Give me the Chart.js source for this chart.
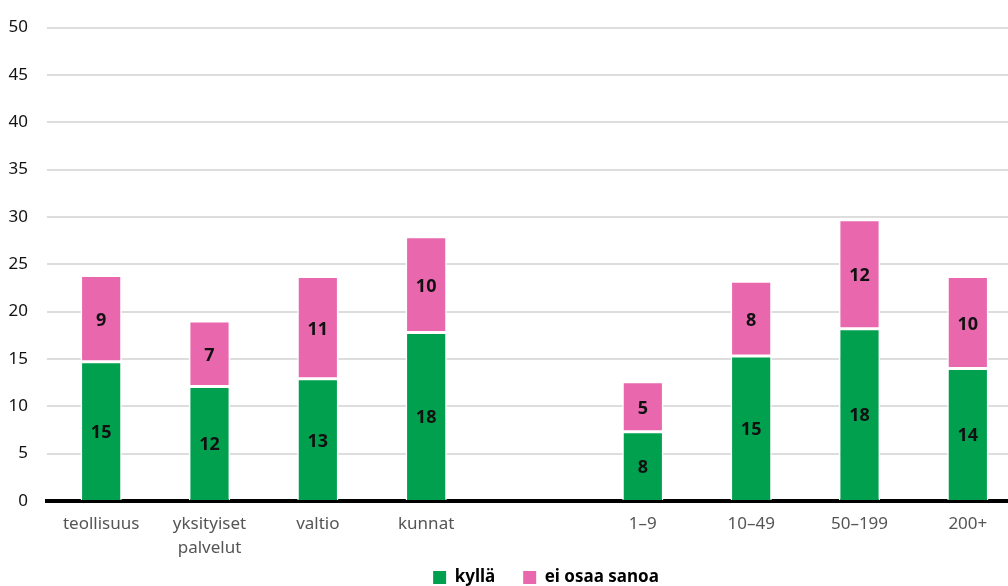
<!DOCTYPE html>
<html>
<head>
<meta charset="utf-8">
<script src="https://cdn.jsdelivr.net/npm/chart.js@4"></script>
<style>
  html, body { margin: 0; padding: 0; background: #fff; overflow: hidden; }
  #wrap { width: 1022px; height: 586px; }
</style>
</head>
<body>
<div id="wrap"><canvas id="chart" width="1022" height="586"></canvas></div>
<script>
// categories (empty slot between the two groups)
const categories = ['teollisuus', ['yksityiset', 'palvelut'], 'valtio', 'kunnat', '', '1–9', '10–49', '50–199', '200+'];
// series values (unrounded)
const kylla = [14.7, 12.1, 12.9, 17.8, null, 7.3, 15.3, 18.2, 14.0];
const eiOsaa = [9.1, 6.9, 10.8, 10.1, null, 5.3, 7.9, 11.5, 9.7];
// printed labels
const kyllaLabels = ['15', '12', '13', '18', '', '8', '15', '18', '14'];
const eiOsaaLabels = ['9', '7', '11', '10', '', '5', '8', '12', '10'];
const seriesNames = ['kyllä', 'ei osaa sanoa'];

const fontFam = '"Noto Sans", "Open Sans", sans-serif';
const legendPad = 28;

// axis labels may spill over the legend box, legend moved down to the bottom edge
const segmentLabels = {
    id: 'segmentLabels',
    afterLayout(chart) {
        const lg = chart.legend;
        const h = lg.bottom - lg.top;
        lg.top = 569 - legendPad;
        lg.bottom = lg.top + h;
        lg.left += 35;
        lg.right += 35;
        chart.scales.x.bottom = chart.height;
    },
    afterDatasetsDraw(chart) {
        const ctx = chart.ctx;
        const allLabels = [kyllaLabels, eiOsaaLabels];
        ctx.save();
        ctx.fillStyle = '#111';
        ctx.font = 'bold 18px ' + fontFam;
        ctx.textAlign = 'center';
        ctx.textBaseline = 'middle';
        chart.data.datasets.forEach((ds, i) => {
            const meta = chart.getDatasetMeta(i);
            meta.data.forEach((bar, j) => {
                const txt = allLabels[i][j];
                if (!txt || ds.data[j] == null) return;
                const p = bar.getProps(['x', 'y', 'base'], true);
                ctx.fillText(txt, p.x, (p.y + p.base) / 2 + 2);
            });
        });
        ctx.restore();
    }
};

new Chart(document.getElementById('chart').getContext('2d'), {
    type: 'bar',
    data: {
        labels: categories,
        datasets: [{
            label: seriesNames[0],
            data: kylla,
            backgroundColor: '#00a04f',
            borderColor: '#ffffff',
            borderWidth: 1.5,
            borderSkipped: 'bottom',
            barPercentage: 0.38,
            categoryPercentage: 1
        }, {
            label: seriesNames[1],
            data: eiOsaa,
            backgroundColor: '#e867ad',
            borderColor: '#ffffff',
            borderWidth: 1.5,
            borderSkipped: false,
            barPercentage: 0.38,
            categoryPercentage: 1
        }]
    },
    options: {
        responsive: false,
        animation: false,
        layout: { padding: { top: 27, left: 0, right: 0, bottom: 0 } },
        scales: {
            x: {
                stacked: true,
                grid: { display: false },
                border: { color: '#000', width: 4 },
                ticks: {
                    color: '#555',
                    font: { family: fontFam, size: 17, lineHeight: 1.4 },
                    padding: 3,
                    maxRotation: 0,
                    autoSkip: false
                },
                afterFit(scale) { scale.height = 30; }
            },
            y: {
                stacked: true,
                min: 0,
                max: 50,
                ticks: {
                    stepSize: 5,
                    color: '#111',
                    font: { family: fontFam, size: 17, lineHeight: 1 },
                    padding: 19
                },
                grid: { color: '#dddddd', lineWidth: 2, drawTicks: false },
                border: { display: false },
                afterFit(scale) { scale.width = 47; }
            }
        },
        plugins: {
            legend: {
                position: 'bottom',
                labels: {
                    color: '#111',
                    font: { family: fontFam, size: 17, weight: 'bold' },
                    boxWidth: 13,
                    boxHeight: 13,
                    padding: legendPad,
                    generateLabels(chart) {
                        return chart.data.datasets.map((ds, i) => ({
                            text: ds.label,
                            fillStyle: ds.backgroundColor,
                            strokeStyle: ds.backgroundColor,
                            lineWidth: 0,
                            datasetIndex: i
                        }));
                    }
                }
            },
            tooltip: { enabled: false }
        }
    },
    plugins: [segmentLabels]
});
</script>
</body>
</html>
